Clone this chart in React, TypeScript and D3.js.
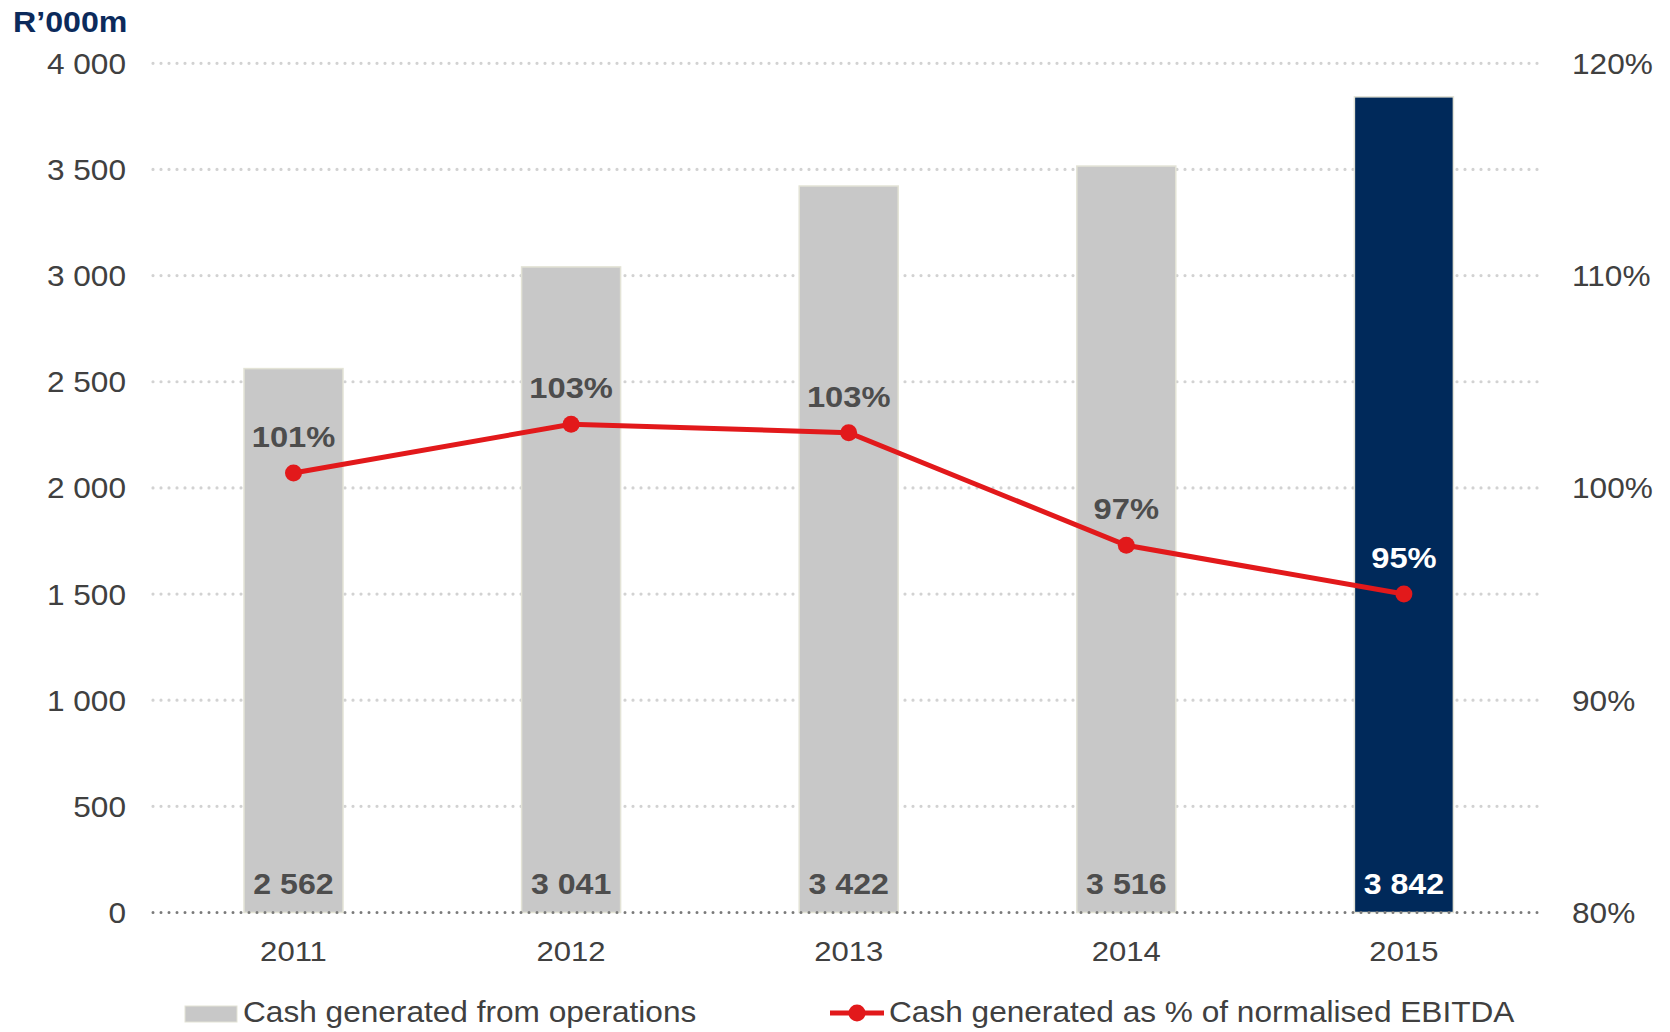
import React from 'react';
import * as d3 from 'd3';

const years = ['2011', '2012', '2013', '2014', '2015'];
const cashValues = [2562, 3041, 3422, 3516, 3842];
const cashLabels = ['2 562', '3 041', '3 422', '3 516', '3 842'];
const pctValues = [100.7, 103.0, 102.6, 97.3, 95.0];
const pctLabels = ['101%', '103%', '103%', '97%', '95%'];
const leftTicks = [0, 500, 1000, 1500, 2000, 2500, 3000, 3500, 4000];
const leftTickLabels = ['0', '500', '1 000', '1 500', '2 000', '2 500', '3 000', '3 500', '4 000'];
const rightTicks = [80, 90, 100, 110, 120];
const rightTickLabels = ['80%', '90%', '100%', '110%', '120%'];
const highlightYear = '2015';

const FONT = '"Liberation Sans", Arial, sans-serif';
const SX = 1.09;

const T = ({ x, y, children, anchor = 'start', size = 29, weight = 400, fill = '#404040' }: any) => (
  <text
    transform={`translate(${x},${y}) scale(${SX},1)`}
    textAnchor={anchor}
    fontSize={size}
    fontWeight={weight}
    fill={fill}
    fontFamily={FONT}
  >
    {children}
  </text>
);

export default function App() {
  const W = 1670, H = 1032;
  const y0 = 912.5, yTop = 63.3;
  const x = d3.scalePoint<string>().domain(years).range([154.7, 1542.7]).padding(0.5);
  const y = d3.scaleLinear().domain([0, 4000]).range([y0, yTop]);
  const y2 = d3.scaleLinear().domain([80, 120]).range([y0, yTop]);
  const barW = 99;
  const gridX1 = 153, gridX2 = 1540;
  const red = '#e2191b';
  const navy = '#00295a';
  const grey = '#c8c8c8';

  const line = d3.line<number>()
    .x((_, i) => x(years[i]) as number)
    .y((d) => y2(d));

  return (
    <svg width={W} height={H} style={{ position: 'absolute', left: 0, top: 0, background: '#fff' }}>
      <T x={13} y={32} size={29.5} weight={700} fill="#0b2a5b">R’000m</T>
      {leftTicks.map((t, i) => (
        <g key={t}>
          {t !== 0 && (
            <line x1={gridX1} x2={gridX2} y1={y(t)} y2={y(t)} stroke="#d2d2d2" strokeWidth={3.2}
              strokeDasharray="0 8" strokeLinecap="round" />
          )}
          <T x={126} y={y(t) + 10.5} anchor="end">{leftTickLabels[i]}</T>
        </g>
      ))}
      {rightTicks.map((t, i) => (
        <T key={t} x={1572} y={y2(t) + 10.5}>{rightTickLabels[i]}</T>
      ))}
      {years.map((yr, i) => {
        const cx = x(yr) as number;
        const hi = yr === highlightYear;
        return (
          <g key={yr}>
            <rect x={cx - barW / 2} y={y(cashValues[i])} width={barW} height={y0 - y(cashValues[i])}
              fill={hi ? navy : grey} stroke="#e3e3d6" strokeWidth={1.5} />
            <T x={cx} y={y0 - 19} anchor="middle" size={29.5} weight={700} fill={hi ? '#ffffff' : '#4d4d4d'}>
              {cashLabels[i]}
            </T>
            <T x={cx} y={y0 + 48} anchor="middle" size={28.5}>{yr}</T>
          </g>
        );
      })}
      <line x1={gridX1} x2={gridX2} y1={y0} y2={y0} stroke="#7a7a7a" strokeWidth={3}
        strokeDasharray="0 8" strokeLinecap="round" />
      <path d={line(pctValues) || ''} fill="none" stroke={red} strokeWidth={5} />
      {years.map((yr, i) => {
        const cx = x(yr) as number;
        const hi = yr === highlightYear;
        return (
          <g key={'p' + yr}>
            <circle cx={cx} cy={y2(pctValues[i])} r={8.5} fill={red} />
            <T x={cx} y={y2(pctValues[i]) - 26} anchor="middle" size={30} weight={700}
              fill={hi ? '#ffffff' : '#4d4d4d'}>{pctLabels[i]}</T>
          </g>
        );
      })}
      <rect x={185} y={1006} width={52} height={16} fill={grey} stroke="#e3e3d6" strokeWidth={1} />
      <T x={243} y={1022}>Cash generated from operations</T>
      <line x1={830} x2={884} y1={1013} y2={1013} stroke={red} strokeWidth={5} />
      <circle cx={857} cy={1013} r={8.5} fill={red} />
      <T x={889} y={1022}>Cash generated as % of normalised EBITDA</T>
    </svg>
  );
}
